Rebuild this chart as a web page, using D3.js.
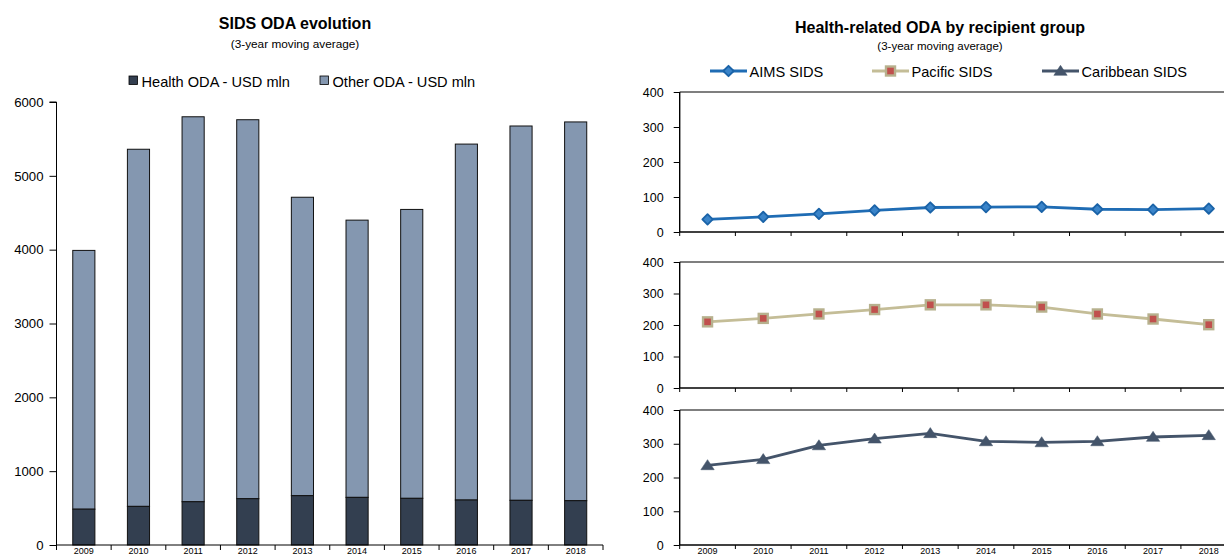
<!DOCTYPE html>
<html>
<head>
<meta charset="utf-8">
<script src="https://cdn.jsdelivr.net/npm/d3@7"></script>
<style>
  html, body { margin: 0; padding: 0; background: #fff; }
  svg { display: block; font-family: "Liberation Sans", Arial, sans-serif; }
</style>
</head>
<body>
<svg id="chart" width="1224" height="557"></svg>
<script>
// Years shared by both charts
const years = ["2009", "2010", "2011", "2012", "2013", "2014", "2015", "2016", "2017", "2018"];

// SIDS ODA (USD mln, 3-year moving average)
const healthODA = [485, 523, 586, 627, 668, 645, 632, 609, 605, 600];
const otherODA  = [3505, 4837, 5214, 5133, 4042, 3755, 3913, 4821, 5070, 5130];
const leftTicks = [0, 1000, 2000, 3000, 4000, 5000, 6000];

// Health-related ODA by recipient group (USD mln)
const aimsSIDS      = [36, 43, 52, 62, 70, 71, 72, 65, 64, 67];
const pacificSIDS   = [210, 221, 235, 249, 264, 264, 257, 235, 219, 201];
const caribbeanSIDS = [236, 254, 295, 315, 331, 307, 304, 307, 320, 325];
const panelTicks = [0, 100, 200, 300, 400];

const svg = d3.select("#chart");
const FONT = "'Liberation Sans', Arial, sans-serif";

function text(g, x, y, str, size, opts = {}) {
  return g.append("text")
    .attr("x", x).attr("y", y)
    .attr("font-size", size)
    .attr("font-weight", opts.bold ? "bold" : "normal")
    .attr("text-anchor", opts.anchor || "middle")
    .attr("fill", "#000")
    .text(str);
}

/* ---------------- Left: stacked bars ---------------- */
(function leftChart() {
  const g = svg.append("g");
  const x0 = 56.5, x1 = 603, yTop = 102, yBot = 545;

  text(g, 295, 29, "SIDS ODA evolution", 16, { bold: true });
  text(g, 295, 48, "(3-year moving average)", 11.8);

  // legend
  const legend = [
    { label: "Health ODA - USD mln", fill: "#333F50", x: 129 },
    { label: "Other ODA - USD mln", fill: "#8497B0", x: 320 }
  ];
  legend.forEach(d => {
    g.append("rect").attr("x", d.x).attr("y", 76).attr("width", 8.5).attr("height", 8.5)
      .attr("fill", d.fill).attr("stroke", "#000").attr("stroke-width", 0.8);
    text(g, d.x + 12.5, 86.5, d.label, 14.6, { anchor: "start" });
  });

  const x = d3.scaleBand().domain(years).range([x0, x1]).padding(0);
  const y = d3.scaleLinear().domain([0, 6000]).range([yBot, yTop]);

  const stacked = years.map((yr, i) => ({ yr, h: healthODA[i], o: otherODA[i] }));
  const barW = x.bandwidth() * 0.405;

  const bars = g.append("g");
  stacked.forEach(d => {
    const bx = x(d.yr) + (x.bandwidth() - barW) / 2;
    bars.append("rect")
      .attr("x", bx).attr("y", y(d.h + d.o))
      .attr("width", barW).attr("height", y(d.h) - y(d.h + d.o))
      .attr("fill", "#8497B0").attr("stroke", "#111").attr("stroke-width", 1);
    bars.append("rect")
      .attr("x", bx).attr("y", y(d.h))
      .attr("width", barW).attr("height", y(0) - y(d.h))
      .attr("fill", "#333F50").attr("stroke", "#111").attr("stroke-width", 1);
  });

  // y axis
  const yAxis = g.append("g").attr("transform", `translate(${x0},0)`)
    .call(d3.axisLeft(y).tickValues(leftTicks).tickSize(7).tickPadding(6).tickFormat(d3.format("d")));
  yAxis.select(".domain").attr("d", `M-7,${yTop}H0V${yBot}`).attr("stroke", "#000");
  yAxis.selectAll("text").attr("font-size", 13.2).attr("font-family", FONT).attr("fill", "#000");
  yAxis.selectAll("line").attr("stroke", "#000");

  // x axis with ticks between categories
  const xa = g.append("g");
  xa.append("line").attr("x1", x0).attr("x2", x1).attr("y1", yBot).attr("y2", yBot).attr("stroke", "#000");
  years.concat(["end"]).forEach((yr, i) => {
    const tx = i < years.length ? x(yr) : x1;
    xa.append("line").attr("x1", tx).attr("x2", tx).attr("y1", yBot).attr("y2", yBot + 5).attr("stroke", "#000");
  });
  years.forEach(yr => {
    text(xa, x(yr) + x.bandwidth() / 2, 554, yr, 9);
  });
})();

/* ---------------- Right: three line panels ---------------- */
(function rightChart() {
  const g = svg.append("g");
  const x0 = 679.7, x1 = 1236.6;

  text(g, 940, 33, "Health-related ODA by recipient group", 16, { bold: true });
  text(g, 940, 50, "(3-year moving average)", 11.5);

  const x = d3.scaleBand().domain(years).range([x0, x1]).padding(0);
  const cx = yr => x(yr) + x.bandwidth() / 2;

  const series = [
    { name: "AIMS SIDS", values: aimsSIDS, line: "#1F6CB4", marker: "diamond",
      top: 92, bot: 232, legendX: 710 },
    { name: "Pacific SIDS", values: pacificSIDS, line: "#C4BD97", marker: "square",
      top: 262, bot: 388, legendX: 872 },
    { name: "Caribbean SIDS", values: caribbeanSIDS, line: "#44546A", marker: "triangle",
      top: 410, bot: 545, legendX: 1042 }
  ];

  function drawMarker(sel, kind, px, py) {
    if (kind === "diamond") {
      const r = 5.2;
      sel.append("path")
        .attr("d", `M${px},${py - r}L${px + r},${py}L${px},${py + r}L${px - r},${py}Z`)
        .attr("fill", "#3A84C9").attr("stroke", "#1A63A8").attr("stroke-width", 1.8)
        .attr("stroke-linejoin", "round");
    } else if (kind === "square") {
      sel.append("rect").attr("x", px - 4.5).attr("y", py - 4.5).attr("width", 9).attr("height", 9)
        .attr("fill", "#C0504D").attr("stroke", "#B7B18E").attr("stroke-width", 2.4);
    } else {
      sel.append("path")
        .attr("d", d3.symbol(d3.symbolTriangle, 58)())
        .attr("transform", `translate(${px},${py + 1}) scale(1.15,1)`)
        .attr("fill", "#44546A").attr("stroke", "#44546A").attr("stroke-width", 0.5);
    }
  }

  series.forEach(s => {
    const y = d3.scaleLinear().domain([0, 400]).range([s.bot, s.top]);
    const p = g.append("g");

    // top border, left axis, bottom axis
    p.append("line").attr("x1", x0).attr("x2", 1224).attr("y1", s.top).attr("y2", s.top)
      .attr("stroke", "#000").attr("stroke-width", 1.2);
    const yAxis = p.append("g").attr("transform", `translate(${x0},0)`)
      .call(d3.axisLeft(y).tickValues(panelTicks).tickSize(6).tickPadding(10));
    yAxis.select(".domain").attr("d", `M0,${s.top}V${s.bot}`).attr("stroke", "#000").attr("stroke-width", 1.4);
    yAxis.selectAll("line").attr("stroke", "#000");
    yAxis.selectAll("text").attr("font-size", 12.5).attr("font-family", FONT).attr("fill", "#000");

    p.append("line").attr("x1", x0).attr("x2", 1224).attr("y1", s.bot).attr("y2", s.bot)
      .attr("stroke", "#000").attr("stroke-width", 1.4);
    years.forEach(yr => {
      p.append("line").attr("x1", x(yr)).attr("x2", x(yr)).attr("y1", s.bot).attr("y2", s.bot + 4)
        .attr("stroke", "#000");
    });

    const line = d3.line().x((d, i) => cx(years[i])).y(d => y(d));
    p.append("path").datum(s.values).attr("d", line)
      .attr("fill", "none").attr("stroke", s.line).attr("stroke-width", 2.8)
      .attr("stroke-linejoin", "round");
    s.values.forEach((v, i) => drawMarker(p, s.marker, cx(years[i]), y(v)));

    // legend entry
    const lg = g.append("g");
    lg.append("line").attr("x1", s.legendX).attr("x2", s.legendX + 37).attr("y1", 71).attr("y2", 71)
      .attr("stroke", s.line).attr("stroke-width", 2.8);
    drawMarker(lg, s.marker, s.legendX + 18.5, 71);
    text(lg, s.legendX + 39.5, 76.5, s.name, 14.6, { anchor: "start" });
  });

  // year labels under the bottom panel
  years.forEach(yr => text(g, cx(yr), 554, yr, 9));
})();
</script>
</body>
</html>
